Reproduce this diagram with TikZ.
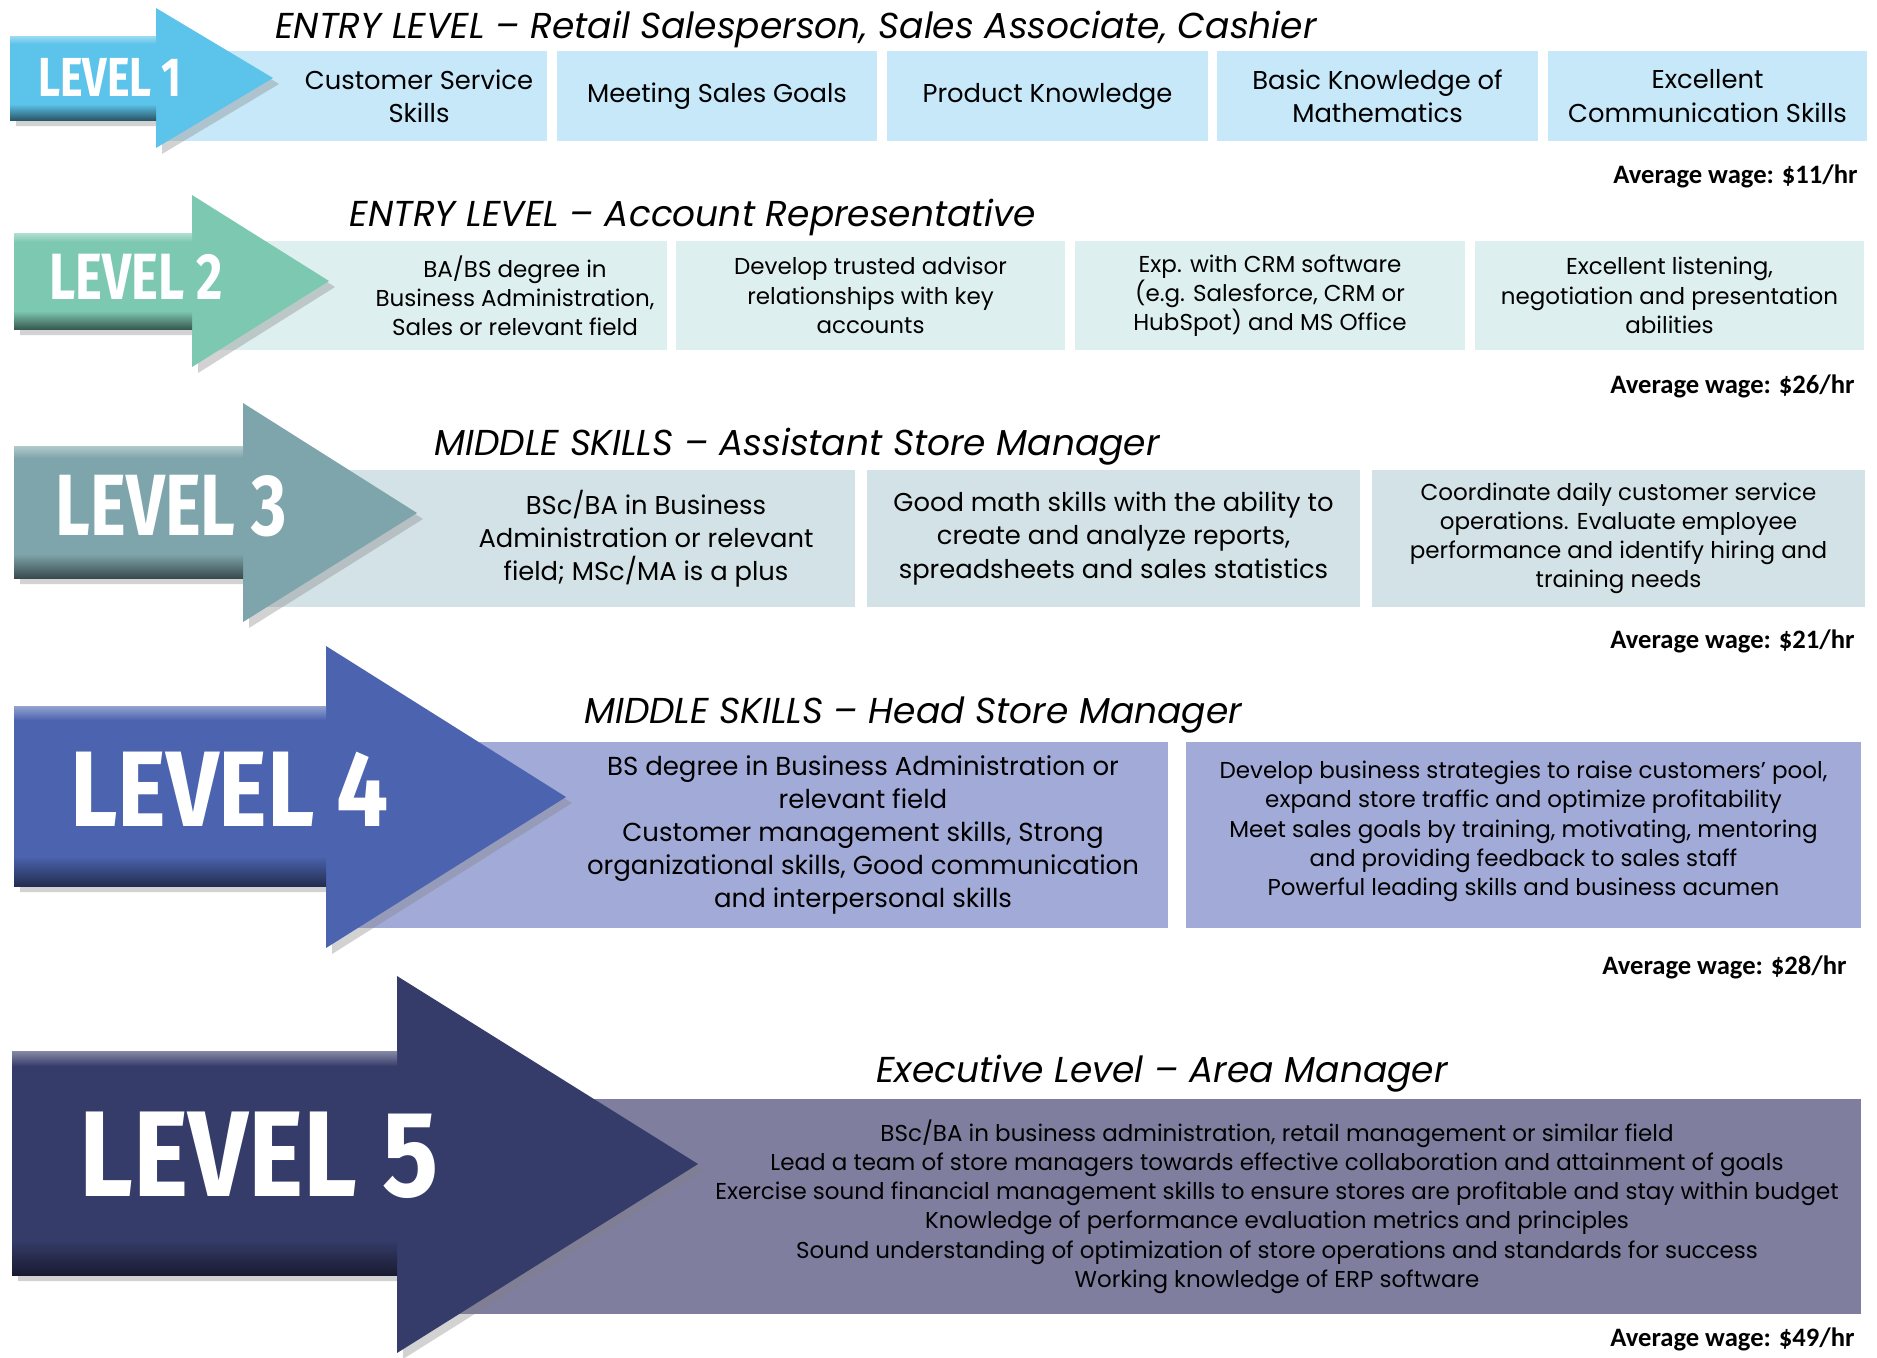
\documentclass[tikz,border=0pt]{standalone}
\usepackage{fontspec}
\setmainfont{Poppins}
\newfontfamily\lvlfont[FakeStretch=0.78]{Fira Sans}
\newfontfamily\lvlwide[FakeStretch=0.86]{Fira Sans}
\newfontfamily\wagefont{Carlito}
\usetikzlibrary{shadows}

\definecolor{arrA}{HTML}{5CC3EA}
\definecolor{boxA}{HTML}{C6E8F8}
\definecolor{arrB}{HTML}{7CC8B0}
\definecolor{boxB}{HTML}{DDF0EF}
\definecolor{arrC}{HTML}{7EA5AB}
\definecolor{boxC}{HTML}{D3E2E6}
\definecolor{arrD}{HTML}{4C64B0}
\definecolor{boxD}{HTML}{A2AAD8}
\definecolor{arrE}{HTML}{363C6A}
\definecolor{boxE}{HTML}{7F7E9F}

\begin{document}
\begin{tikzpicture}[x=0.5pt,y=-0.5pt,
    lvl/.style={text=white,inner sep=0pt,font=\lvlfont\bfseries\fontsize{#1}{#1}\selectfont},
    lvlw/.style={text=white,inner sep=0pt,font=\lvlwide\bfseries\fontsize{#1}{#1}\selectfont},
    ttl/.style={anchor=base,inner sep=0pt,font=\itshape\fontsize{18}{21}\selectfont},
    wage/.style={anchor=east,inner sep=0pt,font=\wagefont\bfseries\fontsize{13.3}{15}\selectfont},
    cell/.style={align=center,inner sep=0pt,minimum height=#1},
    big/.style={font=\fontsize{12.9}{16.6}\selectfont},
    small/.style={font=\fontsize{11.5}{14.6}\selectfont},
    arr/.style={drop shadow={shadow xshift=3pt,shadow yshift=-3pt,opacity=.35}}]
  \useasboundingbox[fill=white] (0,0) rectangle (1877,1357);

  % level 1
  \fill[boxA] (160,51) rectangle (292,141);
  \node[cell=45pt,big,fill=boxA,minimum width=128pt] (b1a) at (419,96) {Customer Service\\Skills};
  \node[cell=45pt,big,fill=boxA,minimum width=160pt] (b1b) at (717,96) {Meeting Sales Goals};
  \node[cell=45pt,big,fill=boxA,minimum width=160.5pt] (b1c) at (1047.5,96) {Product Knowledge};
  \node[cell=45pt,big,fill=boxA,minimum width=160.5pt] (b1d) at (1377.5,96) {Basic Knowledge of\\Mathematics};
  \node[cell=45pt,big,fill=boxA,minimum width=159.5pt] (b1e) at (1707.5,96) {Excellent\\Communication Skills};
  \path[arr,fill=arrA]
    (10,36) -- (156,36) -- (156,8) -- (273,78) -- (156,148) -- (156,120) -- (10,120) -- cycle;
  \fill[top color=arrA!60!white,bottom color=arrA] (10,36) rectangle (156,44);
  \fill[top color=arrA,bottom color=arrA!45!black] (10,104) rectangle (156,120);
  \node[lvl=27.5] (l1) at (110,77) {LEVEL 1};
  \node[ttl] (t1) at (796,38) {ENTRY LEVEL -- Retail Salesperson, Sales Associate, Cashier};
  \node[wage] (w1) at (1858,176) {Average wage: \$11/hr};

  % level 2
  \fill[boxB] (200,241) rectangle (364,350);
  \node[cell=54.5pt,small,fill=boxB,minimum width=152pt] (b2a) at (515,295.5) {BA/BS degree in\\Business Administration,\\Sales or relevant field};
  \node[cell=54.5pt,small,fill=boxB,minimum width=194.5pt] (b2b) at (870.5,295.5) {Develop trusted advisor\\relationships with key\\accounts};
  \node[cell=54.5pt,small,fill=boxB,minimum width=195pt] (b2c) at (1270,295.5) {Exp. with CRM software\\(e.g. Salesforce, CRM or\\HubSpot) and MS Office};
  \node[cell=54.5pt,small,fill=boxB,minimum width=194.5pt] (b2d) at (1669.5,295.5) {Excellent listening,\\negotiation and presentation\\abilities};
  \path[arr,fill=arrB]
    (14,233) -- (192,233) -- (192,195) -- (329,281) -- (192,367) -- (192,329) -- (14,329) -- cycle;
  \fill[top color=arrB!60!white,bottom color=arrB] (14,233) rectangle (192,242);
  \fill[top color=arrB,bottom color=arrB!45!black] (14,311) rectangle (192,329);
  \node[lvl=32.7] (l2) at (136,277) {LEVEL 2};
  \node[ttl] (t2) at (693,226) {ENTRY LEVEL -- Account Representative};
  \node[wage] (w2) at (1855,386) {Average wage: \$26/hr};

  % level 3
  \fill[boxC] (250,470) rectangle (438,607);
  \node[cell=68.5pt,big,fill=boxC,minimum width=209pt] (b3a) at (646,538.5) {BSc/BA in Business\\Administration or relevant\\field; MSc/MA is a plus};
  \node[cell=68.5pt,big,fill=boxC,minimum width=246.5pt] (b3b) at (1113.5,538.5) {Good math skills with the ability to\\create and analyze reports,\\spreadsheets and sales statistics};
  \node[cell=68.5pt,small,fill=boxC,minimum width=246.5pt] (b3c) at (1618.5,538.5) {Coordinate daily customer service\\operations. Evaluate employee\\performance and identify hiring and\\training needs};
  \path[arr,fill=arrC]
    (14,446) -- (243,446) -- (243,403) -- (417,513) -- (243,622) -- (243,578) -- (14,578) -- cycle;
  \fill[top color=arrC!60!white,bottom color=arrC] (14,446) rectangle (243,458);
  \fill[top color=arrC,bottom color=arrC!45!black] (14,554) rectangle (243,578);
  \node[lvl=43.5] (l3) at (171.5,506) {LEVEL 3};
  \node[ttl] (t3) at (797,455) {MIDDLE SKILLS -- Assistant Store Manager};
  \node[wage] (w3) at (1855,641) {Average wage: \$21/hr};

  % level 4
  \fill[boxD] (340,742) rectangle (559,928);
  \node[cell=93pt,font=\fontsize{13}{16.5}\selectfont,fill=boxD,minimum width=305pt] (b4a) at (863,835) {BS degree in Business Administration or\\relevant field\\Customer management skills, Strong\\organizational skills, Good communication\\and interpersonal skills};
  \node[cell=93pt,small,fill=boxD,minimum width=337.5pt] (b4b) at (1523.5,835) {Develop business strategies to raise customers’ pool,\\expand store traffic and optimize profitability\\Meet sales goals by training, motivating, mentoring\\and providing feedback to sales staff\\Powerful leading skills and business acumen\\[-8pt]};
  \path[arr,fill=arrD]
    (14,706) -- (326,706) -- (326,646) -- (566,797) -- (326,948) -- (326,886) -- (14,886) -- cycle;
  \fill[top color=arrD!60!white,bottom color=arrD] (14,706) rectangle (326,720);
  \fill[top color=arrD,bottom color=arrD!45!black] (14,856) rectangle (326,886);
  \node[lvlw=53.7] (l4) at (229.5,789) {LEVEL 4};
  \node[ttl] (t4) at (913,723) {MIDDLE SKILLS -- Head Store Manager};
  \node[wage] (w4) at (1847,967) {Average wage: \$28/hr};

  % level 5
  \fill[boxE] (440,1099) rectangle (694,1314);
  \node[cell=107.5pt,small,fill=boxE,minimum width=584pt] (b5) at (1277,1206.5) {BSc/BA in business administration, retail management or similar field\\Lead a team of store managers towards effective collaboration and attainment of goals\\Exercise sound financial management skills to ensure stores are profitable and stay within budget\\Knowledge of performance evaluation metrics and principles\\Sound understanding of optimization of store operations and standards for success\\Working knowledge of ERP software};
  \path[arr,fill=arrE]
    (12,1051) -- (397,1051) -- (397,976) -- (698,1164) -- (397,1353) -- (397,1275) -- (12,1275) -- cycle;
  \fill[top color=arrE!60!white,bottom color=arrE] (12,1051) rectangle (397,1066);
  \fill[top color=arrE,bottom color=arrE!45!black] (12,1240) rectangle (397,1275);
  \node[lvlw=61] (l5) at (259,1155) {LEVEL 5};
  \node[ttl] (t5) at (1162,1082) {Executive Level -- Area Manager};
  \node[wage] (w5) at (1855,1339) {Average wage: \$49/hr};
\end{tikzpicture}
\end{document}
